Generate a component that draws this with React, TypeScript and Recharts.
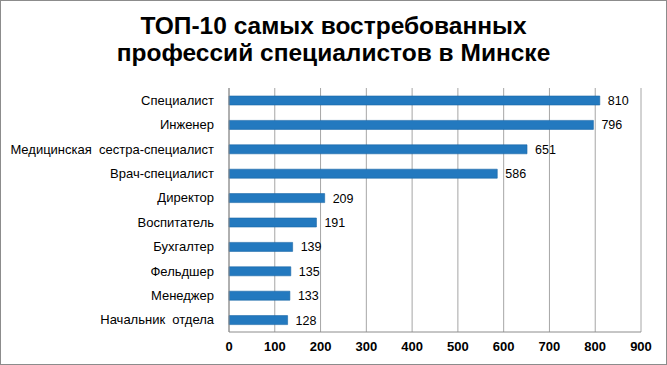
import { Bar, BarChart, CartesianGrid, LabelList, XAxis, YAxis } from "recharts";

const professions = [
  "Специалист",
  "Инженер",
  "Медицинская\u00a0\u00a0сестра-специалист",
  "Врач-специалист",
  "Директор",
  "Воспитатель",
  "Бухгалтер",
  "Фельдшер",
  "Менеджер",
  "Начальник\u00a0\u00a0отдела",
];
const vacancies = [810, 796, 651, 586, 209, 191, 139, 135, 133, 128];
const xTicks = [0, 100, 200, 300, 400, 500, 600, 700, 800, 900];

const data = professions.map((name, i) => ({ name, value: vacancies[i] }));

const font = "'Liberation Sans', Arial, sans-serif";

export default function App() {
  return (
    <div
      style={{
        position: "fixed",
        left: 0,
        top: 0,
        width: 667,
        height: 365,
        boxSizing: "border-box",
        border: "1px solid #8c8c8c",
        background: "#fff",
        fontFamily: font,
      }}
    >
      <div
        style={{
          position: "absolute",
          left: 0,
          top: 11,
          width: 665,
          textAlign: "center",
          fontWeight: "bold",
          fontSize: 24.5,
          lineHeight: "27px",
          color: "#000",
        }}
      >
        ТОП-10 самых востребованных
        <br />
        профессий специалистов в Минске
      </div>
      <div style={{ position: "absolute", left: 0, top: 0 }}>
        <BarChart
          width={665}
          height={363}
          layout="vertical"
          data={data}
          barSize={9}
          margin={{ top: 87, right: 25, bottom: 2, left: 0 }}
        >
          <CartesianGrid horizontal={false} stroke="#a6a6a6" />
          <XAxis
            type="number"
            domain={[0, 900]}
            ticks={xTicks}
            interval={0}
            axisLine={{ stroke: "#8c8c8c" }}
            tickLine={false}
            tickMargin={4}
            tick={{ fill: "#000", fontSize: 13, fontWeight: "bold", fontFamily: font }}
          />
          <YAxis
            type="category"
            dataKey="name"
            width={228}
            axisLine={{ stroke: "#8c8c8c" }}
            tickLine={false}
            tickSize={0}
            tickMargin={15}
            interval={0}
            tick={{ fill: "#000", fontSize: 13, fontFamily: font }}
          />
          <Bar dataKey="value" fill="#2379bf" stroke="#1a66a6" strokeWidth={0.6} isAnimationActive={false}>
            <LabelList
              dataKey="value"
              position="right"
              offset={8}
              fill="#000"
              fontSize={12.5}
              fontFamily={font}
            />
          </Bar>
        </BarChart>
      </div>
    </div>
  );
}
